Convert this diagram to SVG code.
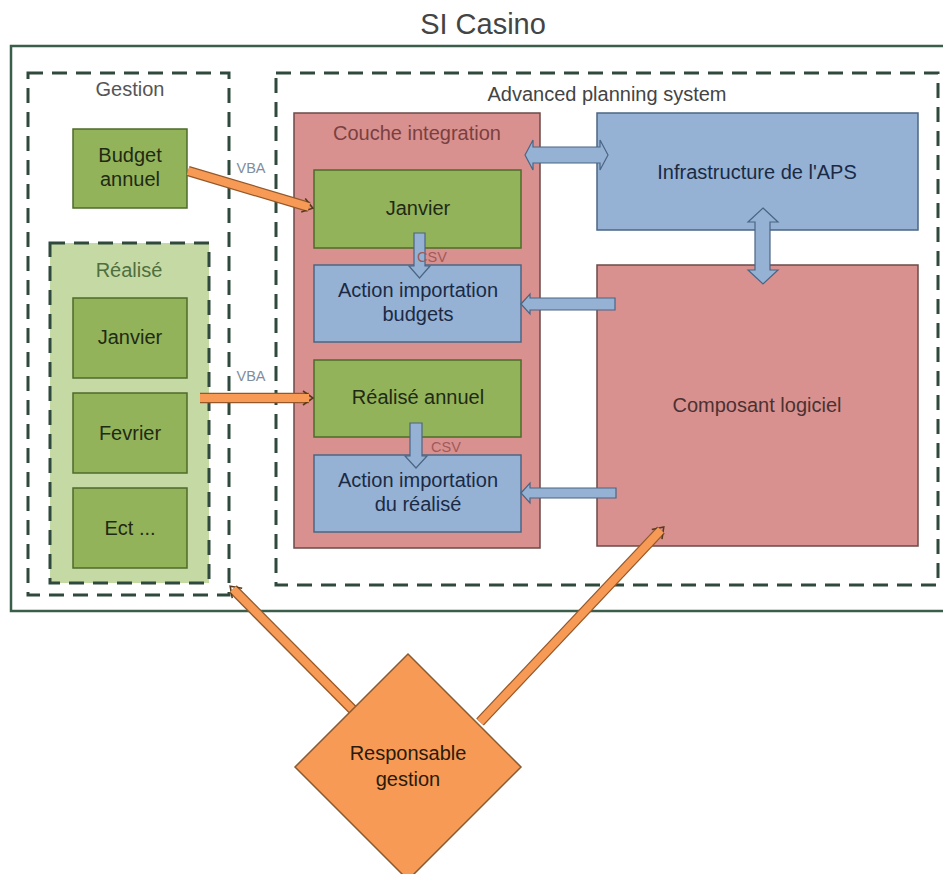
<svg xmlns="http://www.w3.org/2000/svg" width="943" height="874" viewBox="0 0 943 874">
<defs>
<style>
text{font-family:"Liberation Sans",Arial,sans-serif;text-anchor:middle}
.t{font-size:20px}
.green{fill:#93b35a;stroke:#4e6b2a;stroke-width:1.5}
.salmon{fill:#d9918f;stroke:#6d4a4a;stroke-width:1.5}
.blue{fill:#95b2d4;stroke:#4b6584;stroke-width:1.5}
.dash{fill:none;stroke:#2f4a3c;stroke-width:3;stroke-dasharray:15 9}
.gt{fill:#1f2a14}
.bt{fill:#1b2a44}
.st{fill:#4a3232}
.barrow{fill:#95b2d4;stroke:#4b6584;stroke-width:1.2}
.oback{stroke:#94582a;stroke-width:10.5;fill:none}
.ofront{stroke:#f79a55;stroke-width:8;fill:none}
.lbl{font-size:14.5px}
</style>
<marker id="chev" markerUnits="userSpaceOnUse" viewBox="0 0 14 18" refX="9" refY="9" markerWidth="14" markerHeight="18" orient="auto">
<path d="M3,2 L13,9 L3,16" fill="none" stroke="#5a3a1a" stroke-width="1.6"/>
</marker>
</defs>
<rect width="943" height="874" fill="#ffffff"/>

<g id="si-casino">
<rect x="11" y="46" width="945" height="565" fill="none" stroke="#3b5e4a" stroke-width="2.5"/>
<text x="483" y="34" style="font-size:29px" fill="#444">SI Casino</text>
</g>

<g id="gestion">
<rect class="dash" x="28" y="73" width="201" height="522"/>
<text class="t" x="130" y="96" fill="#555">Gestion</text>
</g>

<g id="budget-annuel">
<rect class="green" x="73" y="129" width="114" height="79"/>
<text class="t gt" x="130" y="162">Budget</text>
<text class="t gt" x="130" y="186">annuel</text>
</g>

<g id="realise">
<rect x="50" y="243" width="159" height="340" fill="#c5d9a5"/>
<rect class="dash" x="50" y="243" width="159" height="340"/>
<text class="t" x="129" y="277" fill="#4f6f3f">Réalisé</text>
</g>

<g id="realise-janvier">
<rect class="green" x="73" y="298" width="114" height="80"/>
<text class="t gt" x="130" y="344">Janvier</text>
</g>

<g id="realise-fevrier">
<rect class="green" x="73" y="393" width="114" height="80"/>
<text class="t gt" x="130" y="440">Fevrier</text>
</g>

<g id="realise-ect">
<rect class="green" x="73" y="488" width="114" height="80"/>
<text class="t gt" x="130" y="535">Ect ...</text>
</g>

<g id="aps">
<rect class="dash" x="276" y="73" width="662" height="512"/>
<text class="t" x="607" y="101" fill="#444">Advanced planning system</text>
</g>

<g id="couche-integration">
<rect class="salmon" x="294" y="113" width="246" height="435"/>
<text class="t" x="417" y="140" fill="#7a4040">Couche integration</text>
</g>

<g id="janvier">
<rect class="green" x="314" y="170" width="207" height="78"/>
<text class="t gt" x="418" y="215">Janvier</text>
</g>

<g id="action-budgets">
<rect class="blue" x="314" y="265" width="207" height="77"/>
<text class="t bt" x="418" y="297">Action importation</text>
<text class="t bt" x="418" y="321">budgets</text>
</g>

<g id="realise-annuel">
<rect class="green" x="314" y="360" width="207" height="77"/>
<text class="t gt" x="418" y="404">Réalisé annuel</text>
</g>

<g id="action-realise">
<rect class="blue" x="314" y="455" width="207" height="77"/>
<text class="t bt" x="418" y="487">Action importation</text>
<text class="t bt" x="418" y="511">du réalisé</text>
</g>

<g id="infrastructure">
<rect class="blue" x="597" y="113" width="321" height="117"/>
<text class="t bt" x="757" y="179">Infrastructure de l'APS</text>
</g>

<g id="composant">
<rect class="salmon" x="597" y="265" width="321" height="281"/>
<text class="t st" x="757" y="412">Composant logiciel</text>
</g>

<g id="connectors">
<polygon class="barrow" points="525,155 533,140 533,147 600,147 600,140 608,155 600,170 600,163 533,163 533,170"/>
<polygon class="barrow" points="763,208 778,222 770,222 770,270 778,270 763,284 748,270 755,270 755,222 748,222"/>
<polygon class="barrow" points="521,304 530,294 530,298 615,298 615,310 530,310 530,314"/>
<polygon class="barrow" points="521,493 530,483 530,488 616,488 616,498 530,498 530,503"/>
<polygon class="barrow" points="414,233 425,233 425,266 430,266 419.5,278 409,266 414,266"/>
<polygon class="barrow" points="410,423 422,423 422,456 427,456 416,468 405,456 410,456"/>
<text class="lbl" x="432" y="262" fill="#a05a5a">CSV</text>
<text class="lbl" x="446" y="452" fill="#a05a5a">CSV</text>

<line class="oback" x1="188" y1="171" x2="309" y2="207" marker-end="url(#chev)"/>
<line class="ofront" x1="188" y1="171" x2="309" y2="207"/>
<text class="lbl" x="251" y="173" fill="#7f8d9c">VBA</text>

<line class="oback" x1="200" y1="398" x2="309" y2="398" marker-end="url(#chev)"/>
<line class="ofront" x1="200" y1="398" x2="309" y2="398"/>
<text class="lbl" x="251" y="381" fill="#7f8d9c">VBA</text>

<line class="oback" x1="353" y1="710" x2="233" y2="589" marker-end="url(#chev)"/>
<line class="ofront" x1="353" y1="710" x2="233" y2="589"/>

<line class="oback" x1="480" y1="722" x2="661" y2="530" marker-end="url(#chev)"/>
<line class="ofront" x1="480" y1="722" x2="661" y2="530"/>
</g>

<g id="responsable-gestion">
<polygon points="408,654 521,767 408,880 295,767" fill="#f79a55" stroke="#8a5a30" stroke-width="1.5"/>
<text class="t" x="408" y="760" fill="#2a1a0a">Responsable</text>
<text class="t" x="408" y="786" fill="#2a1a0a">gestion</text>
</g>
</svg>
